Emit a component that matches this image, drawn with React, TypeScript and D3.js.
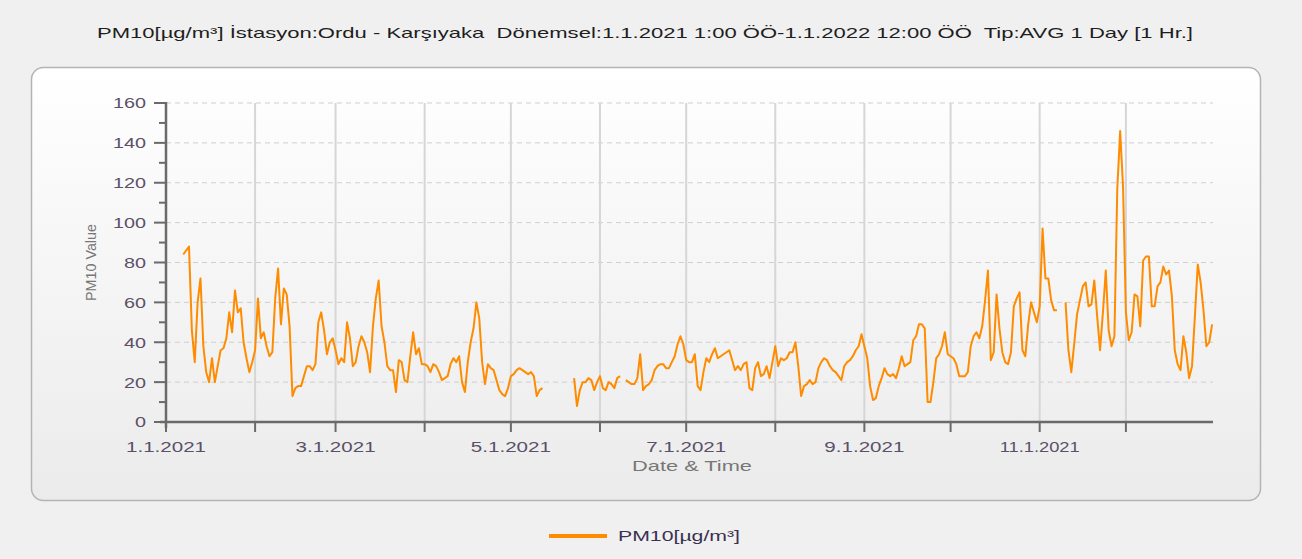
import React from "react";
import * as d3 from "d3";

// daily PM10 averages for 2021, one array per month (null = no data)
const JAN = [null, null, null, null, null, null, 84, 86, 88, 46, 30, 60, 72, 38, 25, 20, 32, 20, 28, 36, 37, 42, 55, 45, 66, 55, 57, 40, 32, 25, 30];
const FEB = [36, 62, 42, 45, 38, 33, 35, 62, 77, 49, 67, 64, 48, 13, 17, 18, 18, 23, 28, 28, 26, 29, 50, 55, 46, 34, 40, 42];
const MAR = [36, 29, 32, 30, 50, 42, 28, 30, 38, 43, 40, 35, 25, 48, 62, 71, 48, 40, 28, 26, 26, 15, 31, 30, 21, 20, 33, 45, 34, 37, 29];
const APR = [29, 28, 25, 29, 28, 25, 21, 22, 23, 29, 32, 30, 33, 20, 15, 30, 40, 47, 60, 52, 30, 19, 29, 27, 26, 21, 16, 14, 13, 17];
const MAY = [23, 24, 26, 27, 26, 25, 24, 25, 23, 13, 16, 17, null, null, null, null, null, null, null, null, null, null, 22, 8, 16, 20, 20, 22, 21, 16, 20];
const JUN = [23, 17, 16, 20, 19, 17, 22, 23, null, 21, 20, 19, 19, 22, 34, 16, 18, 19, 21, 26, 28, 29, 29, 27, 27, 30, 33, 39, 43, 39];
const JUL = [31, 30, 30, 34, 18, 16, 25, 32, 30, 34, 37, 32, 33, 34, 35, 36, 31, 26, 28, 26, 29, 30, 17, 16, 27, 30, 23, 24, 28, 22, 30];
const AUG = [38, 28, 32, 31, 32, 35, 35, 40, 28, 13, 18, 19, 21, 19, 20, 27, 30, 32, 31, 28, 26, 25, 23, 21, 28, 30, 31, 33, 36, 38, 44];
const SEP = [38, 32, 18, 11, 12, 18, 22, 27, 24, 23, 24, 22, 27, 33, 28, 29, 30, 41, 43, 49, 49, 47, 10, 10, 20, 32, 34, 38, 45, 34];
const OCT = [33, 32, 29, 23, 23, 23, 25, 38, 43, 45, 42, 48, 61, 76, 31, 35, 64, 47, 35, 30, 29, 35, 58, 62, 65, 36, 33, 49, 60, 55, 50];
const NOV = [58, 97, 72, 72, 61, 56, 56, null, null, 60, 36, 25, 39, 54, 61, 68, 70, 58, 59, 71, 53, 36, 55, 76, 46, 38, 43, 117, 146, 118];
const DEC = [55, 41, 45, 64, 63, 48, 81, 83, 83, 58, 58, 68, 70, 78, 74, 76, 63, 36, 29, 26, 43, 35, 22, 28, 53, 79, 70, 56, 38, 40, 49];

const MONTHS = [JAN, FEB, MAR, APR, MAY, JUN, JUL, AUG, SEP, OCT, NOV, DEC];
const Y_TICKS = [0, 20, 40, 60, 80, 100, 120, 140, 160];

const TITLE = "PM10[µg/m³] İstasyon:Ordu - Karşıyaka  Dönemsel:1.1.2021 1:00 ÖÖ-1.1.2022 12:00 ÖÖ  Tip:AVG 1 Day [1 Hr.]";
const SERIES = "PM10[µg/m³]";

type Pt = { date: Date; value: number | null };

const points: Pt[] = [];
MONTHS.forEach((arr, m) => {
  arr.forEach((v, i) => points.push({ date: new Date(2021, m, i + 1), value: v }));
});

const W = 1302;
const H = 559;
const left = 166, right = 1215, top = 103, bottom = 422;
const font = "'Liberation Sans', Arial, sans-serif";
const labelColor = "#5a5068";

export default function App() {
  const x = d3.scaleTime().domain([new Date(2021, 0, 1), new Date(2022, 0, 1)]).range([left, right]);
  const y = d3.scaleLinear().domain([0, 160]).range([bottom, top]);

  const line = d3.line<Pt>()
    .defined(d => d.value != null)
    .x(d => x(d.date))
    .y(d => y(d.value as number));

  const months = d3.timeMonth.range(new Date(2021, 0, 1), new Date(2022, 0, 1));
  const minor = d3.range(10, 160, 20);

  return (
    <svg width={W} height={H} style={{ position: "absolute", left: 0, top: 0, background: "#f0f0f0" }}>
      <defs>
        <linearGradient id="panel" x1="0" y1="0" x2="0" y2="1">
          <stop offset="0" stopColor="#ffffff" />
          <stop offset="1" stopColor="#ebebeb" />
        </linearGradient>
      </defs>

      <text x={645} y={38} textAnchor="middle" fontFamily={font} fontSize={15} fill="#1e1e1e"
        style={{ whiteSpace: "pre" }} textLength={1096} lengthAdjust="spacingAndGlyphs">{TITLE}</text>

      <rect x={31.5} y={67.5} width={1229} height={433} rx={12} fill="url(#panel)" stroke="#b4b4b4" strokeWidth={1.5} />

      {/* horizontal dashed grid */}
      {Y_TICKS.filter(t => t > 0).map(t => (
        <line key={"hg" + t} x1={left} x2={1213} y1={y(t)} y2={y(t)} stroke="#cfcfcf" strokeWidth={1} strokeDasharray="5,4" />
      ))}
      {/* vertical month grid */}
      {months.slice(1).map((d, i) => (
        <line key={"vg" + i} x1={x(d)} x2={x(d)} y1={top} y2={bottom} stroke="#d6d6d6" strokeWidth={2} />
      ))}

      {/* y axis */}
      <line x1={left} x2={left} y1={top - 1} y2={bottom + 6} stroke="#6a6a6a" strokeWidth={2.5} />
      {Y_TICKS.map(t => (
        <g key={"yt" + t}>
          <line x1={left - 12} x2={left} y1={y(t)} y2={y(t)} stroke="#6a6a6a" strokeWidth={2} />
          <text x={146} y={y(t)} dy="0.36em" textAnchor="end" fontFamily={font} fontSize={15} fill={labelColor}
            textLength={String(t).length * 11} lengthAdjust="spacingAndGlyphs">{t}</text>
        </g>
      ))}
      {minor.map(t => (
        <line key={"ym" + t} x1={left - 7} x2={left} y1={y(t)} y2={y(t)} stroke="#6a6a6a" strokeWidth={2} />
      ))}
      <text transform={`translate(96,${(top + bottom) / 2}) rotate(-90)`} textAnchor="middle" fontFamily={font}
        fontSize={14} fill="#777" textLength={77} lengthAdjust="spacingAndGlyphs">PM10 Value</text>

      {/* x axis */}
      <line x1={left - 6} x2={1213} y1={bottom} y2={bottom} stroke="#6a6a6a" strokeWidth={2.5} />
      {months.map((d, i) => (
        <line key={"xt" + i} x1={x(d)} x2={x(d)} y1={bottom} y2={bottom + 10} stroke="#6a6a6a" strokeWidth={2} />
      ))}
      {months.filter(d => d.getMonth() % 2 === 0).map((d, i) => (
        <text key={"xl" + i} x={x(d)} y={452} textAnchor="middle" fontFamily={font} fontSize={15} fill={labelColor}
          textLength={80} lengthAdjust="spacingAndGlyphs">{`${d.getMonth() + 1}.1.${d.getFullYear()}`}</text>
      ))}
      <text x={692} y={471} textAnchor="middle" fontFamily={font} fontSize={15} fill="#777"
        textLength={120} lengthAdjust="spacingAndGlyphs">Date &amp; Time</text>

      {/* series */}
      <path d={line(points) || ""} fill="none" stroke="#ff8c00" strokeWidth={2} strokeLinejoin="round" />

      {/* legend */}
      <line x1={549} x2={607} y1={536} y2={536} stroke="#ff8c00" strokeWidth={4} />
      <text x={618} y={541} fontFamily={font} fontSize={15} fill="#3a3050"
        textLength={122} lengthAdjust="spacingAndGlyphs">{SERIES}</text>
    </svg>
  );
}
